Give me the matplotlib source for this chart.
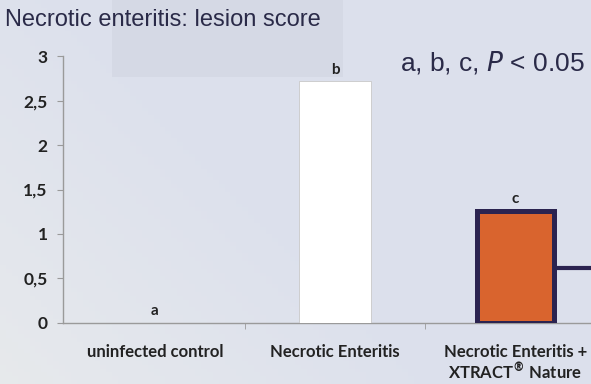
import matplotlib.pyplot as plt
import matplotlib.patches as patches
import numpy as np

# chart data
categories = ['uninfected control', 'Necrotic Enteritis', 'Necrotic Enteritis +\nXTRACT$^{\\bf ®}$ Nature']
scores = [0.0, 2.72, 1.26]
letters = ['a', 'b', 'c']
yticks = [0, 0.5, 1, 1.5, 2, 2.5, 3]
ytick_labels = ['0', '0,5', '1', '1,5', '2', '2,5', '3']

bg = '#dde1ed'
fig = plt.figure(figsize=(5.91, 3.84), dpi=100, facecolor=bg)

# soft background gradient, lighter towards the bottom left
bgax = fig.add_axes([0, 0, 1, 1], zorder=-2)
gy, gx = np.mgrid[0:1:100j, 0:1:100j]
shade = np.clip(1.0 - (gx * 1.4 + (1 - gy) * 0.9), 0, 1)
top = np.array([0.866, 0.882, 0.929])
low = np.array([0.905, 0.915, 0.925])
img = top[None, None, :] * (1 - shade[..., None]) + low[None, None, :] * shade[..., None]
bgax.imshow(img, extent=[0, 1, 0, 1], aspect='auto', origin='upper')
bgax.add_patch(patches.Rectangle((0.19, 0.8), 0.39, 0.2, facecolor='#d5d9e5', edgecolor='none'))
bgax.set_xlim(0, 1)
bgax.set_ylim(0, 1)
bgax.axis('off')

ax = fig.add_axes([0.1066, 0.159, 0.8934, 0.695])
ax.set_facecolor('none')

x = np.arange(len(categories))
face = ['white', 'white', '#d9642e']
edge = ['white', '#c8c8c8', '#2b2350']
lw = [0, 0.6, 3.6]
width = [0.39, 0.4, 0.43]
for i in range(len(categories)):
    ax.bar(x[i], scores[i], width=width[i], color=face[i], edgecolor=edge[i], linewidth=lw[i], zorder=3)

# callout line leaving the orange bar
ax.plot([x[2] + width[2] / 2, x[2] + 1], [0.62, 0.62], color='#2b2350', lw=3, zorder=2)

lfont = dict(family='Lato', weight='bold', color='#222222')
for i in range(len(categories)):
    ax.text(x[i], scores[i] + 0.05, letters[i], ha='center', va='bottom', fontsize=11, **lfont)

ax.set_xlim(-0.51, 2.42)
ax.set_ylim(0, 3)
ax.set_yticks(yticks)
ax.set_yticklabels(ytick_labels, fontsize=12.5, **lfont)
ax.set_xticks(x)
ax.set_xticklabels(categories, fontsize=12, linespacing=1.12, **lfont)
ax.tick_params(axis='x', length=0, pad=15)
ax.tick_params(axis='y', length=4, color='#9a9a9a', pad=7)
ax.set_xticks([0.5, 1.5], minor=True)
ax.tick_params(axis='x', which='minor', length=4, color='#9a9a9a')

for s in ['top', 'right']:
    ax.spines[s].set_visible(False)
for s in ['left', 'bottom']:
    ax.spines[s].set_color('#9a9a9a')
    ax.spines[s].set_linewidth(1)

fig.text(0.008, 0.948, 'Necrotic enteritis: lesion score', fontsize=17, family='Liberation Sans',
         color='#2a2a48', ha='left', va='center')
fig.text(0.677, 0.838, 'a, b, c, $\\it{P}$ < 0.05', fontsize=19, family='Liberation Sans',
         color='#2a2a48', ha='left', va='center')

plt.savefig('out.png', dpi=100, facecolor=bg)
